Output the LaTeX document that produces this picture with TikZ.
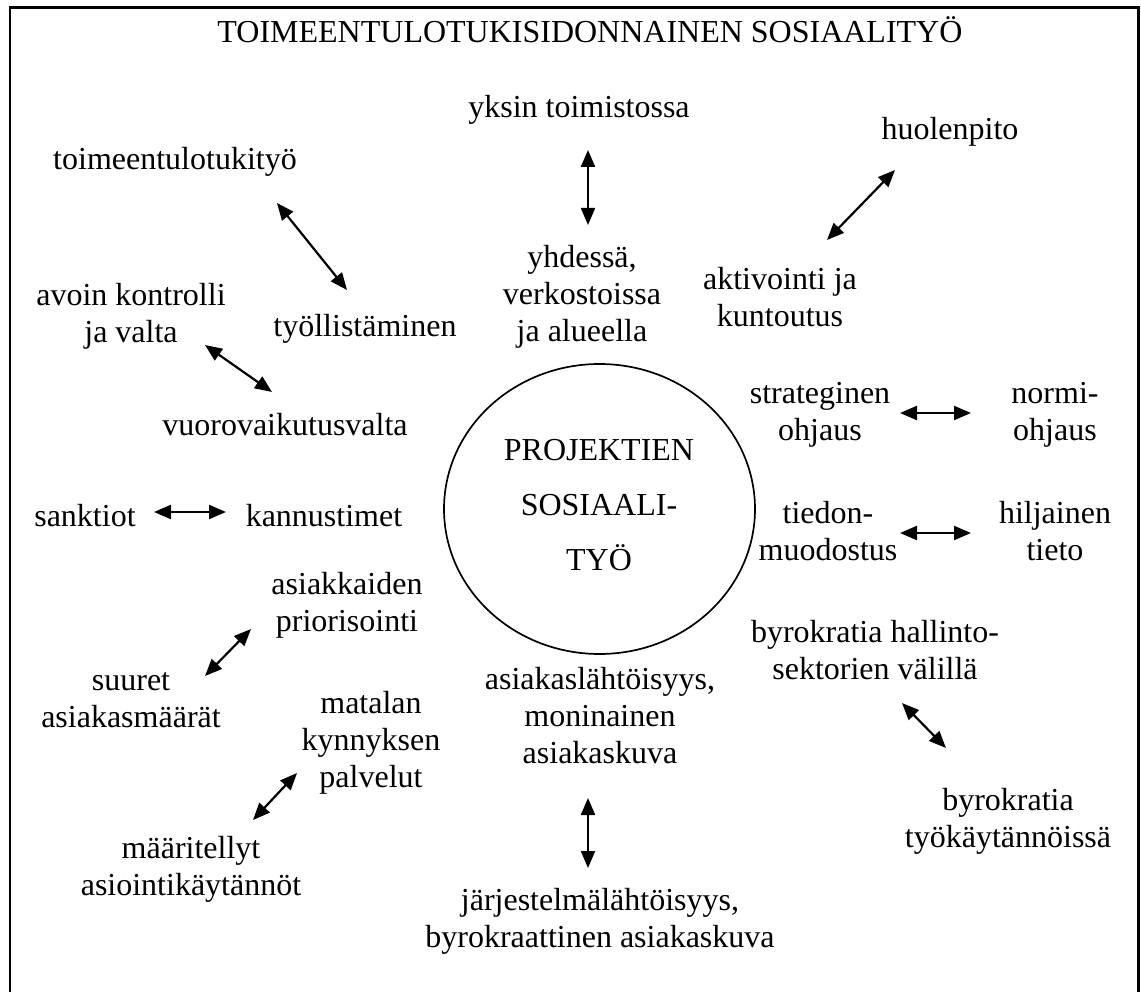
\documentclass[tikz,border=0pt]{standalone}
\usepackage{fontspec}
\setmainfont{Liberation Serif}
\usetikzlibrary{arrows.meta,shapes.geometric}
\newcommand{\blk}[1]{\begin{tabular}[t]{@{}c@{}}#1\end{tabular}}
\begin{document}
\begin{tikzpicture}[x=1pt,y=-1pt,
  lbl/.style={anchor=base,inner sep=0pt,font=\fontsize{32}{37}\selectfont},
  dbl/.style={line width=2.2pt,{Triangle[length=17pt,width=14pt]}-{Triangle[length=17pt,width=14pt]}}]
\useasboundingbox (0,0) rectangle (1141,992);
\begin{scope}
\clip (0,0) rectangle (1141,992);
\draw[line width=2.6pt] (10,1010) -- (10,7.5) -- (1138.5,7.5) -- (1138.5,1010);
\end{scope}
\node[lbl] (title) at (590,43) {TOIMEENTULOTUKISIDONNAINEN SOSIAALITYÖ};
\node[lbl] (yksin) at (579,118) {yksin toimistossa};
\node[lbl] (yhd) at (582,268) {\blk{yhdessä,\\verkostoissa\\ja alueella}};
\coordinate (a1s) at (588,150); \coordinate (a1e) at (588,225);
\draw[dbl] (a1s) -- (a1e);
\node[lbl] (huol) at (950,140) {huolenpito};
\node[lbl] (akt) at (780,290) {\blk{aktivointi ja\\kuntoutus}};
\coordinate (a2s) at (895,170); \coordinate (a2e) at (827,240);
\draw[dbl] (a2s) -- (a2e);
\node[lbl] (tt) at (175,170) {toimeentulotukityö};
\node[lbl] (tyo) at (365,337) {työllistäminen};
\coordinate (a3s) at (277,203); \coordinate (a3e) at (347,290);
\draw[dbl] (a3s) -- (a3e);
\node[lbl] (avoin) at (131,306) {\blk{avoin kontrolli\\ja valta}};
\node[lbl] (vuoro) at (285,435) {vuorovaikutusvalta};
\coordinate (a4s) at (205,345); \coordinate (a4e) at (272,392);
\draw[dbl] (a4s) -- (a4e);
\node[lbl] (sank) at (85,526) {sanktiot};
\node[lbl] (kann) at (324,526) {kannustimet};
\coordinate (a5s) at (154,512); \coordinate (a5e) at (226,512);
\draw[dbl] (a5s) -- (a5e);
\node[draw,line width=1.7pt,ellipse,minimum width=311pt,minimum height=290pt,inner sep=0pt] (circ) at (599.5,509) {};
\node[anchor=base,inner sep=0pt,font=\fontsize{32}{55.5}\selectfont] (proj) at (599,460) {\blk{PROJEKTIEN\\SOSIAALI-\\TYÖ}};
\node[lbl] (strat) at (820,403) {\blk{strateginen\\ohjaus}};
\node[lbl] (normi) at (1055,403) {\blk{normi-\\ohjaus}};
\coordinate (a6s) at (900,413); \coordinate (a6e) at (971,413);
\draw[dbl] (a6s) -- (a6e);
\node[lbl] (tied) at (828,523) {\blk{tiedon-\\muodostus}};
\node[lbl] (hilj) at (1055,523) {\blk{hiljainen\\tieto}};
\coordinate (a7s) at (900,533); \coordinate (a7e) at (971,533);
\draw[dbl] (a7s) -- (a7e);
\node[lbl] (prio) at (347,594) {\blk{asiakkaiden\\priorisointi}};
\node[lbl] (suur) at (131,690) {\blk{suuret\\asiakasmäärät}};
\coordinate (a8s) at (251,629); \coordinate (a8e) at (205,676);
\draw[dbl] (a8s) -- (a8e);
\node[lbl] (mat) at (371,713) {\blk{matalan\\kynnyksen\\palvelut}};
\node[lbl] (maar) at (191,858) {\blk{määritellyt\\asiointikäytännöt}};
\coordinate (a9s) at (297,773); \coordinate (a9e) at (253,820);
\draw[dbl] (a9s) -- (a9e);
\node[lbl] (asl) at (600,689) {\blk{asiakaslähtöisyys,\\moninainen\\asiakaskuva}};
\node[lbl] (jarj) at (600,910) {\blk{järjestelmälähtöisyys,\\byrokraattinen asiakaskuva}};
\coordinate (a10s) at (588,798); \coordinate (a10e) at (588,868);
\draw[dbl] (a10s) -- (a10e);
\node[lbl] (byr1) at (875,642) {\blk{byrokratia hallinto-\\sektorien välillä}};
\node[lbl] (byr2) at (1008,810) {\blk{byrokratia\\työkäytännöissä}};
\coordinate (a11s) at (902,703); \coordinate (a11e) at (946,748);
\draw[dbl] (a11s) -- (a11e);
\end{tikzpicture}
\end{document}
